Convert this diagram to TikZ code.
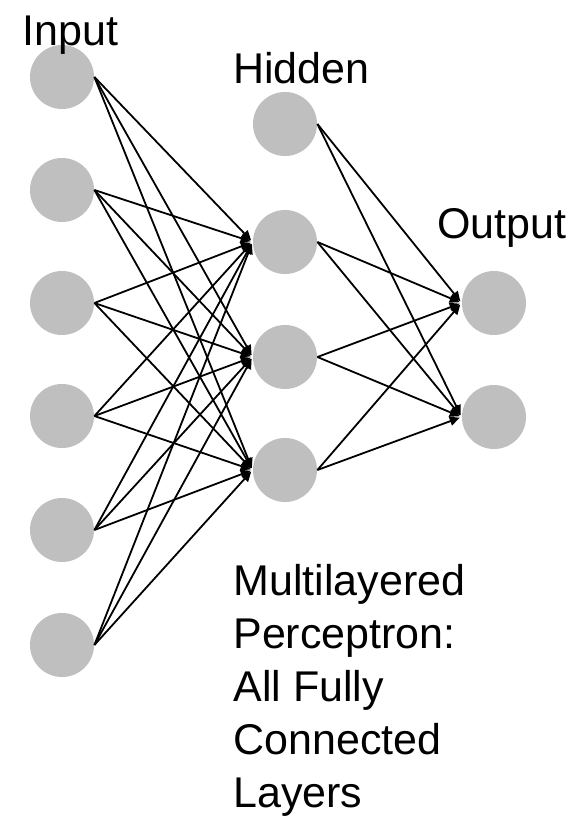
\documentclass[tikz,border=0pt]{standalone}
\usepackage{fontspec}
\setmainfont{Liberation Sans}
\usetikzlibrary{arrows.meta}
\begin{document}
\begin{tikzpicture}[x=0.5pt,y=-0.5pt,
    neuron/.style={circle,fill=black!25,minimum size=32pt,inner sep=0pt},
    layer/.style={anchor=base west,inner sep=0pt},
    >={Triangle[length=5pt,width=4.5pt]},
    font=\fontsize{21.5}{26.5}\selectfont]
    \useasboundingbox (0,0) rectangle (573,819);
    \node[neuron] (i1) at (62,77) {};
    \node[neuron] (i2) at (62,190) {};
    \node[neuron] (i3) at (62,303) {};
    \node[neuron] (i4) at (62,416) {};
    \node[neuron] (i5) at (62,530) {};
    \node[neuron] (i6) at (62,645) {};
    \node[neuron] (h1) at (285,124) {};
    \node[neuron] (h2) at (285,242) {};
    \node[neuron] (h3) at (285,357) {};
    \node[neuron] (h4) at (285,470) {};
    \node[neuron] (o1) at (494,303) {};
    \node[neuron] (o2) at (494,417) {};
    \node[layer] (inp) at (22,45) {Input};
    \node[layer] (hid) at (233,83) {Hidden};
    \node[layer] (outp) at (437,238) {Output};
    \node[layer,align=left] (mlp) at (233,807) {Multilayered\\Perceptron:\\All Fully\\Connected\\Layers};
    \path[->,line width=0.9pt,shorten >=1pt]
    (i1.east) edge (h2.west) (i1.east) edge (h3.west) (i1.east) edge (h4.west)
    (i2.east) edge (h2.west) (i2.east) edge (h3.west) (i2.east) edge (h4.west)
    (i3.east) edge (h2.west) (i3.east) edge (h3.west) (i3.east) edge (h4.west)
    (i4.east) edge (h2.west) (i4.east) edge (h3.west) (i4.east) edge (h4.west)
    (i5.east) edge (h2.west) (i5.east) edge (h3.west) (i5.east) edge (h4.west)
    (i6.east) edge (h2.west) (i6.east) edge (h3.west) (i6.east) edge (h4.west)
    (h1.east) edge (o1.west) (h1.east) edge (o2.west)
    (h2.east) edge (o1.west) (h2.east) edge (o2.west)
    (h3.east) edge (o1.west) (h3.east) edge (o2.west)
    (h4.east) edge (o1.west) (h4.east) edge (o2.west);
  \end{tikzpicture}
\end{document}
